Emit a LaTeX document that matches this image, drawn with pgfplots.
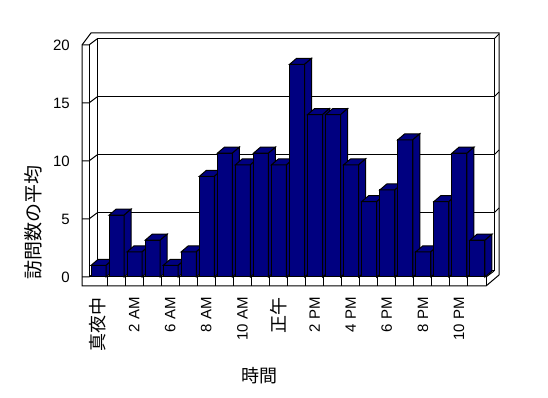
\documentclass[border=0pt]{standalone}
\usepackage{fontspec}
\setmainfont{Liberation Sans}
\newfontfamily\cjk{Noto Sans CJK JP}
\usepackage{pgfplots}
\pgfplotsset{compat=1.18}
\definecolor{barblue}{RGB}{0,0,128}
\pgfdeclareplotmark{nomark}{}
\begin{document}
\begin{tikzpicture}[x=1pt,y=1pt]
\useasboundingbox (0,0) rectangle (548,398);
% back wall (inner face) with grid lines
\begin{axis}[at={(97pt,127pt)}, anchor=south west, scale only axis,
  width=397pt, height=232pt,
  xmin=-0.5, xmax=21.5, ymin=0, ymax=20,
  xtick=\empty, ytick={0,5,10,15,20}, yticklabels={},
  major tick length=0pt,
  ymajorgrids, grid style={black, line width=1pt},
  axis line style={line width=1pt}]
\end{axis}
% walls and floor
\begin{scope}[line width=1pt, line join=miter]
\draw (82,112) -- (82,353) -- (91,365) -- (499,365) -- (499,123) -- (486,112) -- cycle;
\draw (89,353) -- (89,121) -- (486,121) -- (486,112);
\draw (494,127) -- (486,121);
\foreach \v in {0,5,10,15,20} {\draw (82,{121+11.6*\v}) -- (89,{121+11.6*\v}) -- (97,{127+11.6*\v});}
\foreach \v in {5,10,15,20} {\draw (494,{127+11.6*\v}) -- (499,{132+11.6*\v});}
\foreach \k in {1,...,21} {\draw ({89+18.045*\k},121) -- ++(0,-9);}
\end{scope}
\node[rotate=90, font=\cjk\fontsize{19}{21}\selectfont] at (33,175) {訪問数の平均};
\node[font=\cjk\fontsize{18}{20}\selectfont] at (259,22) {時間};
% front plane with bars
\begin{axis}[at={(89pt,121pt)}, anchor=south west, scale only axis,
  width=397pt, height=232pt,
  xmin=-0.5, xmax=21.5, ymin=0, ymax=20, clip=false,
  axis line style={draw=none}, major tick length=0pt, tick style={draw=none},
  ytick={0,5,10,15,20},
  yticklabel style={anchor=east, inner sep=0pt, font=\fontsize{15}{17}\selectfont},
  yticklabel shift=19pt,
  xtick={0,2,...,20},
  xticklabels={{\cjk\fontsize{18}{20}\selectfont 真夜中}, 2 AM, 6 AM, 8 AM, 10 AM, {\cjk\fontsize{18}{20}\selectfont 正午}, 2 PM, 4 PM, 6 PM, 8 PM, 10 PM},
  xticklabel style={rotate=90, anchor=east, inner sep=0pt, font=\fontsize{15}{17}\selectfont},
  xticklabel shift=20pt,
  /pgf/number format/assume math mode=true]
\addplot[scatter, only marks, mark=nomark,
  visualization depends on={rawy \as \rawy},
  scatter/@pre marker code/.code={%
    \pgfmathsetmacro\hh{\rawy*11.6}%
    \filldraw[fill=barblue, draw=black, line width=1pt, line join=miter] (-7pt,-\hh pt) rectangle (8pt,0pt);
    \filldraw[fill=barblue, draw=black, line width=1pt, line join=miter] (-7pt,0pt) -- (0pt,6pt) -- (15pt,6pt) -- (8pt,0pt) -- cycle;
    \filldraw[fill=barblue, draw=black, line width=1pt, line join=miter] (8pt,0pt) -- (15pt,6pt) -- (15pt,6pt-\hh pt) -- (8pt,-\hh pt) -- cycle;
  },
  scatter/@post marker code/.code={}]
table {
x y
0 1
1 5.33
2 2.17
3 3.17
4 1
5 2.17
6 8.67
7 10.67
8 9.67
9 10.67
10 9.67
11 18.33
12 14
13 14
14 9.67
15 6.5
16 7.5
17 11.83
18 2.17
19 6.5
20 10.67
21 3.17
};
\end{axis}
\end{tikzpicture}
\end{document}
